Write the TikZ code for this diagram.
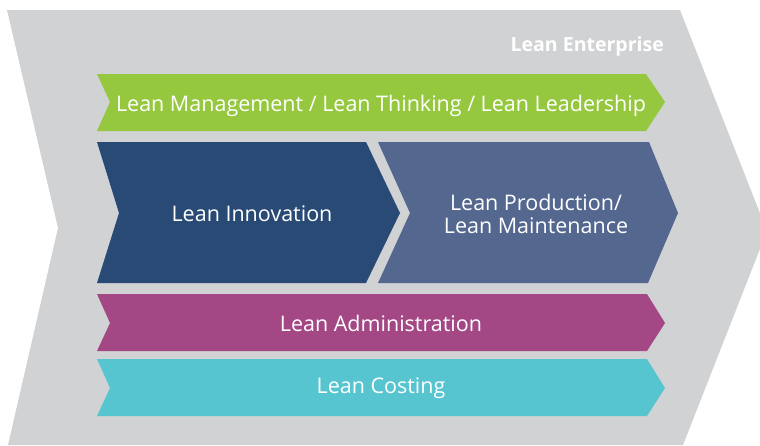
\documentclass[tikz,border=0pt]{standalone}
\usepackage{fontspec}
\setmainfont{Open Sans}
\usetikzlibrary{positioning}

\definecolor{enterprisegrey}{HTML}{D1D2D4}
\definecolor{mgmtgreen}{HTML}{95C83F}
\definecolor{innoblue}{HTML}{284A75}
\definecolor{prodslate}{HTML}{53678F}
\definecolor{adminpurple}{HTML}{A34885}
\definecolor{costcyan}{HTML}{56C5D0}

\tikzset{
  band/.style={fill=#1, draw=none},
  bandtext/.style={text=white, font=\fontsize{21.5}{23.5}\selectfont, align=center, inner sep=0pt},
  headtext/.style={text=white, font=\fontsize{19.5}{22}\selectfont\bfseries, inner sep=0pt}
}

\begin{document}
\begin{tikzpicture}[x=1pt,y=-1pt]
\useasboundingbox (0,0) rectangle (760,445);
\clip (0,0) rectangle (760,445);

% outer chevron
\fill[band=enterprisegrey] (7,10) -- (680,10) -- (767,231) -- (683,445) -- (8,445) -- (58,228) -- cycle;

% bands
\fill[band=mgmtgreen]   (97,74)  -- (646,74)  -- (665,102) -- (646,131) -- (97,131) -- (110,102) -- cycle;
\fill[band=innoblue]    (97,142) -- (366,142) -- (400,213) -- (366,283) -- (97,283) -- (119,213) -- cycle;
\fill[band=prodslate]   (378,142) -- (649,142) -- (678,213) -- (648,283) -- (378,283) -- (410,213) -- cycle;
\fill[band=adminpurple] (97,294) -- (647,294) -- (665,323) -- (647,351) -- (97,351) -- (110,323) -- cycle;
\fill[band=costcyan]    (97,359) -- (647,359) -- (665,388) -- (647,416) -- (97,416) -- (110,388) -- cycle;

% labels
\node[headtext, anchor=base east] (ent)   at (664,51)  {Lean Enterprise};
\node[bandtext, anchor=base] (mgmt)  at (381,111) {Lean Management / Lean Thinking / Lean Leadership};
\node[bandtext, anchor=base] (inno)  at (252,221) {Lean Innovation};
\node[bandtext] (prod)  at (536,214) {Lean Production/\\Lean Maintenance};
\node[bandtext, anchor=base] (admin) at (381,331) {Lean Administration};
\node[bandtext, anchor=base] (cost)  at (381,393) {Lean Costing};

\end{tikzpicture}
\end{document}
